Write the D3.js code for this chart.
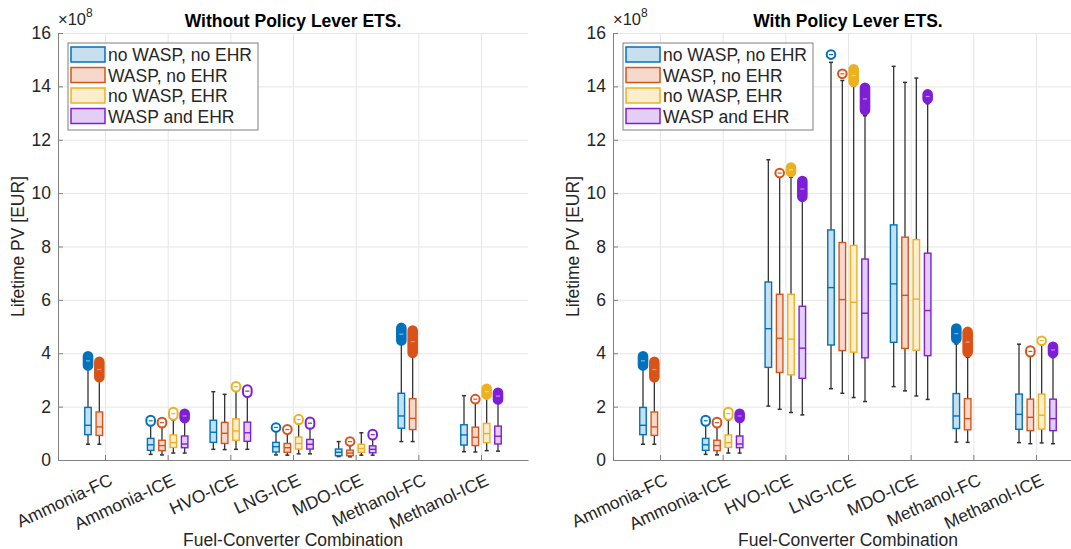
<!DOCTYPE html>
<html>
<head>
<meta charset="utf-8">
<script src="https://cdn.jsdelivr.net/npm/d3@7"></script>
<style>
    body { margin: 0; background: #fff; }
    text { font-family: "Liberation Sans", Arial, Helvetica, sans-serif; fill: #262626; }
</style>
</head>
<body>
<div id="chart"></div>
<script>
// categories and groups
const categories = ["Ammonia-FC", "Ammonia-ICE", "HVO-ICE", "LNG-ICE", "MDO-ICE", "Methanol-FC", "Methanol-ICE"];
const groups = ["no WASP, no EHR", "WASP, no EHR", "no WASP, EHR", "WASP and EHR"];
const colors = ["#0072BD", "#D95319", "#EDB120", "#7E1FD6"];
const yTickValues = [0, 2, 4, 6, 8, 10, 12, 14, 16];

// box stats in 1e8 EUR: [lower whisker, q1, median, q3, upper whisker], null = no box
const noEtsBoxes = [
    [[0.59, 0.95, 1.30, 1.97, 3.40], [0.59, 0.92, 1.24, 1.80, 2.95], null, null],
    [[0.21, 0.36, 0.57, 0.81, 1.31], [0.19, 0.35, 0.54, 0.74, 1.28], [0.26, 0.47, 0.65, 0.94, 1.50], [0.26, 0.46, 0.60, 0.90, 1.45]],
    [[0.40, 0.66, 1.04, 1.49, 2.56], [0.39, 0.62, 1.00, 1.41, 2.46], [0.40, 0.74, 1.09, 1.54, 2.65], [0.40, 0.70, 1.02, 1.42, 2.45]],
    [[0.19, 0.30, 0.50, 0.66, 1.10], [0.18, 0.29, 0.46, 0.62, 1.05], [0.23, 0.41, 0.62, 0.86, 1.38], [0.23, 0.41, 0.59, 0.77, 1.25]],
    [[0.13, 0.16, 0.29, 0.41, 0.69], [0.12, 0.16, 0.26, 0.37, 0.55], [0.18, 0.29, 0.43, 0.59, 1.02], [0.18, 0.27, 0.40, 0.53, 0.85]],
    [[0.69, 1.19, 1.65, 2.50, 4.37], [0.69, 1.14, 1.56, 2.30, 3.87], null, null],
    [[0.31, 0.56, 0.94, 1.32, 2.41], [0.30, 0.54, 0.85, 1.23, 2.15], [0.35, 0.65, 0.99, 1.37, 2.40], [0.33, 0.60, 0.89, 1.27, 2.20]]
];
// outlier marker range in 1e8 EUR: [lowest, highest], null = none
const noEtsOutliers = [
    [[3.54, 3.89], [3.10, 3.68], null, null],
    [[1.44, 1.50], [1.38, 1.42], [1.67, 1.80], [1.57, 1.73]],
    [null, null, [2.73, 2.76], [2.52, 2.64]],
    [[1.22, 1.22], [1.13, 1.15], [1.50, 1.53], [1.33, 1.43]],
    [null, [0.69, 0.69], null, [0.93, 0.97]],
    [[4.48, 4.95], [4.02, 4.85], null, null],
    [null, [2.28, 2.28], [2.45, 2.67], [2.27, 2.52]]
];

const etsBoxes = [
    [[0.59, 0.95, 1.30, 1.97, 3.40], [0.59, 0.92, 1.24, 1.80, 2.95], null, null],
    [[0.21, 0.36, 0.57, 0.81, 1.31], [0.19, 0.35, 0.54, 0.74, 1.28], [0.26, 0.47, 0.65, 0.94, 1.50], [0.26, 0.46, 0.60, 0.90, 1.45]],
    [[2.02, 3.47, 4.92, 6.67, 11.25], [1.90, 3.28, 4.56, 6.21, 10.60], [1.78, 3.19, 4.53, 6.21, 10.60], [1.69, 3.06, 4.19, 5.76, 9.80]],
    [[2.67, 4.31, 6.46, 8.62, 14.90], [2.50, 4.10, 6.01, 8.15, 14.22], [2.34, 4.04, 5.91, 8.04, 14.00], [2.19, 3.83, 5.50, 7.53, 12.90]],
    [[2.75, 4.41, 6.60, 8.81, 14.75], [2.59, 4.18, 6.17, 8.35, 14.15], [2.40, 4.11, 6.03, 8.26, 14.31], [2.27, 3.91, 5.60, 7.75, 13.35]],
    [[0.67, 1.18, 1.65, 2.49, 4.35], [0.66, 1.13, 1.55, 2.30, 3.85], null, null],
    [[0.65, 1.15, 1.71, 2.47, 4.34], [0.61, 1.10, 1.60, 2.28, 3.95], [0.64, 1.16, 1.68, 2.47, 4.32], [0.61, 1.10, 1.55, 2.28, 3.84]]
];
const etsOutliers = [
    [[3.54, 3.89], [3.10, 3.68], null, null],
    [[1.44, 1.50], [1.38, 1.42], [1.67, 1.80], [1.57, 1.73]],
    [null, [10.75, 10.75], [10.79, 10.96], [9.86, 10.45]],
    [[15.19, 15.19], [14.47, 14.47], [14.17, 14.64], [13.11, 13.95]],
    [null, null, null, [13.54, 13.70]],
    [[4.54, 4.93], [4.04, 4.80], null, null],
    [null, [4.04, 4.10], [4.47, 4.47], [4.01, 4.24]]
];

const width = 1071;
const height = 549;
const fontSize = 17.5;

const svg = d3.select("#chart").append("svg")
    .attr("width", width)
    .attr("height", height);

function drawPanel(left, title, boxes, outliers) {
    const top = 33, bottom = 460, plotWidth = 470;

    const x = d3.scalePoint().domain(categories).range([left, left + plotWidth]).padding(0.75);
    const offset = d3.scalePoint().domain(groups).range([-17, 17]);
    const y = d3.scaleLinear().domain([0, 16]).range([bottom, top]);

    const g = svg.append("g");

    // grid
    g.append("g")
        .attr("transform", `translate(${left},0)`)
        .call(d3.axisLeft(y).tickValues(yTickValues).tickSize(-plotWidth).tickFormat(""))
        .call(s => s.select(".domain").remove())
        .call(s => s.selectAll("line").attr("stroke", "#e6e6e6"));
    g.append("g")
        .attr("transform", `translate(0,${bottom})`)
        .call(d3.axisBottom(x).tickSize(-(bottom - top)).tickFormat(""))
        .call(s => s.select(".domain").remove())
        .call(s => s.selectAll("line").attr("stroke", "#e6e6e6"));

    // axes
    g.append("g")
        .attr("transform", `translate(${left},0)`)
        .call(d3.axisLeft(y).tickValues(yTickValues).tickSize(-5).tickSizeOuter(0).tickPadding(7))
        .call(s => s.select(".domain").attr("stroke", "#808080"))
        .call(s => s.selectAll(".tick line").attr("stroke", "#808080"))
        .call(s => s.selectAll("text").attr("font-size", fontSize).style("fill", "#262626"));

    const xAxis = g.append("g")
        .attr("transform", `translate(0,${bottom})`)
        .call(d3.axisBottom(x).tickSize(-5).tickSizeOuter(0))
        .call(s => s.select(".domain").attr("stroke", "#808080"))
        .call(s => s.selectAll(".tick line").attr("stroke", "#808080"));
    xAxis.selectAll("text")
        .attr("font-size", fontSize)
        .style("fill", "#262626")
        .attr("text-anchor", "end")
        .attr("x", 0).attr("y", 0)
        .attr("dy", "0.71em")
        .attr("transform", "translate(3,13) rotate(-25)");

    // exponent label
    const expo = g.append("text")
        .attr("x", left)
        .attr("y", 25)
        .attr("font-size", 16.5);
    expo.append("tspan").text("\u00d710");
    expo.append("tspan").attr("font-size", 12).attr("dy", -8).text("8");

    // title and axis labels
    g.append("text")
        .attr("x", left + plotWidth / 2)
        .attr("y", 27)
        .attr("text-anchor", "middle")
        .attr("font-size", fontSize)
        .attr("font-weight", "bold")
        .style("fill", "#000")
        .text(title);

    g.append("text")
        .attr("transform", `translate(${left - 34},${(top + bottom) / 2}) rotate(-90)`)
        .attr("text-anchor", "middle")
        .attr("font-size", fontSize)
        .text("Lifetime PV [EUR]");

    g.append("text")
        .attr("x", left + plotWidth / 2)
        .attr("y", 546)
        .attr("text-anchor", "middle")
        .attr("font-size", fontSize)
        .text("Fuel-Converter Combination");

    // boxes
    const boxW = 6.5, r = 4.3;
    categories.forEach((cat, ci) => {
        groups.forEach((grp, gi) => {
            const b = boxes[ci][gi];
            if (!b) return;
            const cx = x(cat) + offset(grp);
            const col = colors[gi];
            const bg = g.append("g");

            // whiskers
            bg.append("line")
                .attr("x1", cx).attr("x2", cx)
                .attr("y1", y(b[0])).attr("y2", y(b[1]))
                .attr("stroke", "#333").attr("stroke-width", 1.3);
            bg.append("line")
                .attr("x1", cx).attr("x2", cx)
                .attr("y1", y(b[3])).attr("y2", y(b[4]))
                .attr("stroke", "#333").attr("stroke-width", 1.3);
            [b[0], b[4]].forEach(v => {
                bg.append("line")
                    .attr("x1", cx - 2).attr("x2", cx + 2)
                    .attr("y1", y(v)).attr("y2", y(v))
                    .attr("stroke", "#333").attr("stroke-width", 1.5);
            });

            // box
            bg.append("rect")
                .attr("x", cx - boxW / 2)
                .attr("y", y(b[3]))
                .attr("width", boxW)
                .attr("height", y(b[1]) - y(b[3]))
                .attr("fill", d3.interpolateRgb("#fff", col)(0.22))
                .attr("stroke", col)
                .attr("stroke-width", 1.4);
            bg.append("line")
                .attr("x1", cx - boxW / 2).attr("x2", cx + boxW / 2)
                .attr("y1", y(b[2])).attr("y2", y(b[2]))
                .attr("stroke", col).attr("stroke-width", 1.4);

            // outliers
            const o = outliers[ci][gi];
            if (!o) return;
            const dense = o[1] - o[0] > 0.15;
            bg.append("rect")
                .attr("x", cx - r)
                .attr("y", y(o[1]) - r)
                .attr("width", 2 * r)
                .attr("height", y(o[0]) - y(o[1]) + 2 * r)
                .attr("rx", r)
                .attr("fill", dense ? col : "#fff")
                .attr("stroke", col)
                .attr("stroke-width", 2);
            bg.append("line")
                .attr("x1", cx - 2).attr("x2", cx + 2)
                .attr("y1", y((o[0] + o[1]) / 2)).attr("y2", y((o[0] + o[1]) / 2))
                .attr("stroke", dense ? "#fff" : col)
                .attr("stroke-opacity", dense ? 0.5 : 1)
                .attr("stroke-width", 1.2);
        });
    });

    // legend
    const lg = g.append("g").attr("transform", `translate(${left + 10},43)`);
    lg.append("rect")
        .attr("width", 190).attr("height", 87)
        .attr("fill", "#fff").attr("stroke", "#808080");
    groups.forEach((grp, gi) => {
        const row = lg.append("g").attr("transform", `translate(3,${4 + gi * 20.5})`);
        row.append("rect")
            .attr("width", 34).attr("height", 15)
            .attr("fill", d3.interpolateRgb("#fff", colors[gi])(0.22))
            .attr("stroke", colors[gi]).attr("stroke-width", 1.5);
        row.append("text")
            .attr("x", 37).attr("y", 14)
            .attr("font-size", fontSize)
            .text(grp);
    });
}

drawPanel(58, "Without Policy Lever ETS.", noEtsBoxes, noEtsOutliers);
drawPanel(613, "With Policy Lever ETS.", etsBoxes, etsOutliers);
</script>
</body>
</html>
